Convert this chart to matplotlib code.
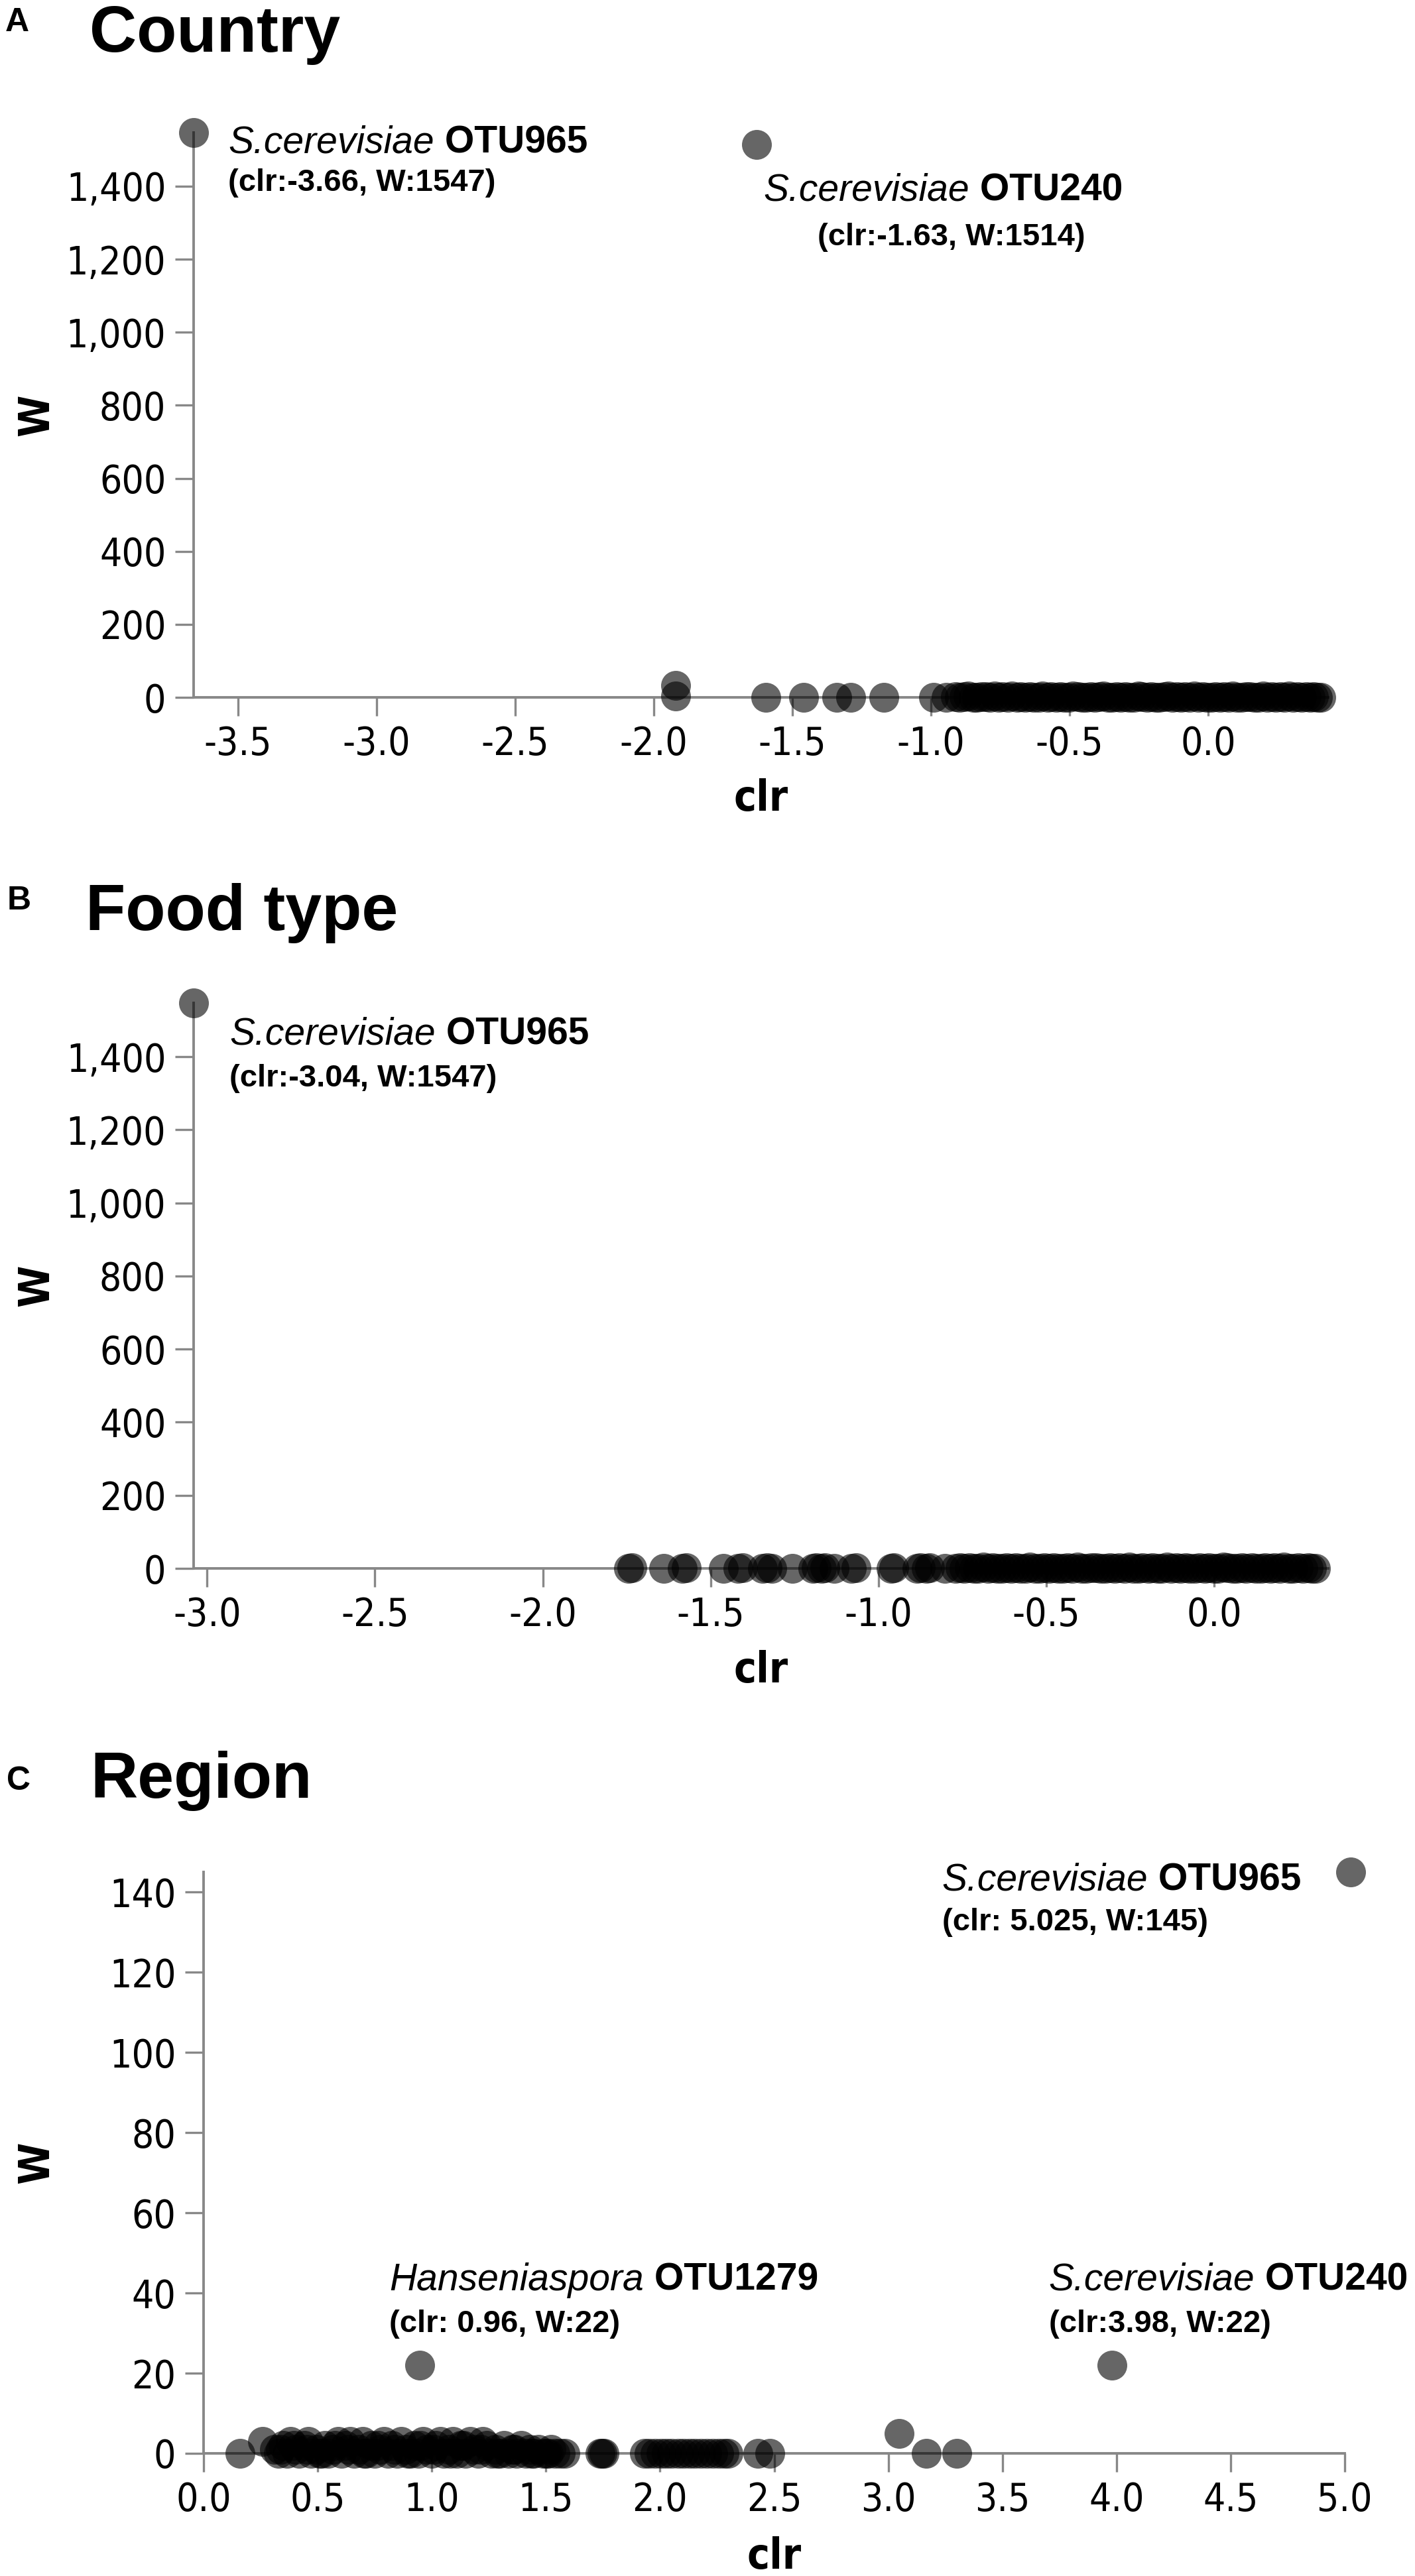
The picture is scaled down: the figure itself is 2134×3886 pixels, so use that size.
import matplotlib
matplotlib.use("Agg")
import matplotlib.pyplot as plt
from matplotlib import font_manager as fm
from matplotlib.ticker import FuncFormatter, FixedLocator

## ---- data ----
# A: Country
country_clr = [-3.66, -1.63, -1.92, -1.92, -1.595, -1.46, -1.34, -1.29, -1.17, -0.99, -0.945,
               -0.912, -0.897, -0.881, -0.866, -0.848, -0.835, -0.819, -0.801, -0.788, -0.770,
               -0.756, -0.741, -0.722, -0.709, -0.690, -0.676, -0.661, -0.643, -0.628, -0.611,
               -0.597, -0.580, -0.566, -0.548, -0.533, -0.519, -0.502, -0.487, -0.470, -0.455,
               -0.441, -0.424, -0.409, -0.392, -0.378, -0.361, -0.346, -0.330, -0.316, -0.299,
               -0.285, -0.268, -0.252, -0.239, -0.221, -0.206, -0.190, -0.176, -0.159, -0.144,
               -0.128, -0.113, -0.097, -0.083, -0.066, -0.051, -0.035, -0.020, -0.004, 0.011,
               0.027, 0.042, 0.058, 0.073, 0.089, 0.104, 0.120, 0.136, 0.151, 0.167,
               0.182, 0.198, 0.213, 0.229, 0.244, 0.260, 0.275, 0.291, 0.307, 0.322,
               0.338, 0.353, 0.368, 0.381, 0.394, 0.406]
country_w = [1547, 1514, 32, 4, 0, 0, 0, 0, 0, 0, 0,
             2, 0, 1, 3, 0, 0, 2, 1, 0, 4,
             0, 1, 0, 3, 0, 2, 0, 1, 0, 0,
             3, 0, 1, 0, 2, 0, 0, 4, 1, 0,
             0, 2, 0, 1, 3, 0, 0, 1, 0, 2,
             0, 0, 3, 1, 0, 2, 0, 0, 1, 4,
             0, 1, 0, 2, 0, 3, 0, 1, 0, 0,
             2, 0, 1, 0, 3, 0, 0, 2, 1, 0,
             0, 4, 0, 1, 0, 2, 0, 3, 0, 1,
             0, 2, 0, 1, 0, 0]

# B: Food type
food_clr = [-3.04, -1.745, -1.735, -1.640, -1.585, -1.572, -1.462, -1.418, -1.405, -1.345,
            -1.332, -1.318, -1.257, -1.196, -1.185, -1.170, -1.160, -1.133, -1.080, -1.068,
            -0.962, -0.955, -0.885, -0.876, -0.857, -0.848, -0.802,
            -0.771, -0.758, -0.746, -0.729, -0.716, -0.703, -0.688, -0.675, -0.661, -0.647,
            -0.633, -0.619, -0.604, -0.591, -0.578, -0.562, -0.549, -0.534, -0.521, -0.507,
            -0.492, -0.479, -0.465, -0.450, -0.437, -0.423, -0.408, -0.395, -0.381, -0.366,
            -0.353, -0.338, -0.325, -0.311, -0.296, -0.283, -0.268, -0.254, -0.241, -0.226,
            -0.213, -0.197, -0.185, -0.169, -0.157, -0.141, -0.129, -0.113, -0.101, -0.085,
            -0.073, -0.057, -0.045, -0.029, -0.017, -0.001, 0.011, 0.027, 0.039, 0.055,
            0.067, 0.083, 0.095, 0.111, 0.123, 0.139, 0.151, 0.167, 0.179, 0.195,
            0.207, 0.223, 0.235, 0.251, 0.263, 0.279, 0.290, 0.301]
food_w = [1547, 0, 2, 0, 0, 1, 0, 0, 2, 0,
          1, 0, 0, 0, 2, 0, 1, 0, 0, 1,
          0, 2, 0, 1, 0, 2, 0,
          0, 1, 0, 2, 0, 0, 3, 0, 1, 0,
          0, 2, 0, 1, 0, 0, 3, 0, 0, 1,
          0, 2, 0, 0, 1, 0, 3, 0, 0, 2,
          1, 0, 0, 2, 0, 1, 0, 3, 0, 0,
          2, 0, 1, 0, 0, 3, 0, 1, 0, 2,
          0, 0, 1, 0, 2, 0, 0, 3, 1, 0,
          0, 2, 0, 1, 0, 0, 2, 0, 1, 0,
          3, 0, 0, 1, 0, 2, 0, 0]

# C: Region
region_clr = [5.025, 0.947, 3.98, 3.047, 3.167, 3.30, 0.16, 0.26,
              0.312, 0.327, 0.349, 0.366, 0.381, 0.403, 0.418, 0.441, 0.458, 0.472,
              0.493, 0.508, 0.531, 0.547, 0.566, 0.589, 0.603, 0.622, 0.641, 0.659,
              0.681, 0.697, 0.712, 0.734, 0.751, 0.772, 0.789, 0.808, 0.826, 0.848,
              0.866, 0.887, 0.905, 0.923, 0.941, 0.962, 0.979, 0.998, 1.017, 1.036,
              1.053, 1.074, 1.092, 1.111, 1.128, 1.149, 1.167, 1.186, 1.204, 1.223,
              1.241, 1.262, 1.279, 1.298, 1.317, 1.336, 1.353, 1.372, 1.391, 1.412,
              1.428, 1.447, 1.466, 1.487, 1.503, 1.522, 1.541, 1.562,
              0.338, 0.395, 0.452, 0.517, 0.574, 0.633, 0.704, 0.763, 0.836, 0.894,
              0.951, 1.008, 1.082, 1.139, 1.213, 1.288, 1.362, 1.437, 1.512, 1.583,
              1.737, 1.746, 1.755, 1.931, 1.952, 1.978, 2.004, 2.027, 2.051, 2.079,
              2.103, 2.129, 2.152, 2.178, 2.204, 2.231, 2.258, 2.282, 2.297, 2.43, 2.48]
region_w = [145, 22, 22, 5, 0, 0, 0, 3,
            1, 0, 2, 0, 3, 1, 0, 2, 3, 0,
            1, 0, 2, 0, 1, 3, 0, 2, 3, 0,
            1, 3, 0, 2, 0, 1, 3, 0, 2, 0,
            3, 1, 0, 2, 0, 3, 1, 0, 2, 3,
            0, 1, 3, 0, 2, 0, 3, 1, 0, 3,
            2, 0, 1, 0, 2, 0, 1, 0, 2, 0,
            1, 0, 1, 0, 0, 1, 0, 0,
            1, 2, 1, 0, 2, 1, 0, 2, 1, 0,
            2, 1, 0, 2, 1, 0, 1, 0, 0, 0,
            0, 0, 0, 0, 0, 0, 0, 0, 0, 0,
            0, 0, 0, 0, 0, 0, 0, 0, 0, 0, 0]

## ---- fonts ----
ANN = "Liberation Sans"
cond = [f for f in fm.fontManager.ttflist
        if f.name.startswith("DejaVu Sans") and "Mono" not in f.name
        and (str(f.stretch) == "condensed" or "Condensed" in f.name)]
if cond:
    tick_family, tick_stretch, tick_size, lab_size = cond[0].name, "condensed", 42, 46
else:
    tick_family, tick_stretch, tick_size, lab_size = "DejaVu Sans", "normal", 39, 43
plt.rcParams["font.family"] = [tick_family]
plt.rcParams["font.stretch"] = tick_stretch

GREY = "#888888"
W_PX, H_PX = 2134, 3886
fig = plt.figure(figsize=(W_PX / 100, H_PX / 100), dpi=100)


def box(left, top, right, bottom):
    return [left / W_PX, 1 - bottom / H_PX, (right - left) / W_PX, (bottom - top) / H_PX]


def panel(rect, clr, w, xlim, ylim, xticks, yticks, yfmt, label_y):
    ax = fig.add_axes(box(*rect))
    ax.scatter(clr, w, s=1050, c="black", alpha=0.6, linewidths=0, zorder=3, clip_on=False)
    ax.set_xlim(*xlim)
    ax.set_ylim(*ylim)
    ax.xaxis.set_major_locator(FixedLocator(xticks))
    ax.yaxis.set_major_locator(FixedLocator(yticks))
    ax.xaxis.set_major_formatter(FuncFormatter(lambda v, p: f"{v:.1f}"))
    ax.yaxis.set_major_formatter(FuncFormatter(yfmt))
    for s in ["top", "right"]:
        ax.spines[s].set_visible(False)
    for s in ["left", "bottom"]:
        ax.spines[s].set_color(GREY)
        ax.spines[s].set_linewidth(2.8)
    ax.tick_params(length=20, width=2.4, color=GREY, labelsize=tick_size, pad=10)
    ax.set_facecolor("none")
    # axis titles
    l, t, r, b = rect
    fig.text((l + r) / 2 / W_PX, 1 - label_y / H_PX, "clr", ha="center", va="center",
             fontsize=lab_size, fontweight="bold")
    fig.text(55 / W_PX, 1 - (t + b) / 2 / H_PX, "W", ha="center", va="center",
             rotation=90, fontsize=lab_size, fontweight="bold")
    return ax


def tag(ax, x, y, species, otu, stats, dx1, dy1, dx2, dy2, ha2="left"):
    t1 = ax.annotate(species, (x, y), xytext=(dx1, dy1), textcoords="offset pixels",
                     fontsize=41, style="italic", family=ANN, fontstretch="normal",
                     ha="left", va="baseline", annotation_clip=False)
    ax.annotate(" " + otu, (1, 0), xycoords=t1, fontsize=41, fontweight="bold",
                family=ANN, fontstretch="normal", ha="left", va="bottom")
    ax.annotate(stats, (x, y), xytext=(dx2, dy2), textcoords="offset pixels",
                fontsize=34, fontweight="bold", family=ANN, fontstretch="normal",
                ha=ha2, va="baseline", annotation_clip=False)


def heading(letter, title, letter_xy, title_xy):
    fig.text(letter_xy[0] / W_PX, 1 - letter_xy[1] / H_PX, letter, fontsize=36,
             fontweight="bold", family=ANN, fontstretch="normal", va="baseline")
    fig.text(title_xy[0] / W_PX, 1 - title_xy[1] / H_PX, title, fontsize=71,
             fontweight="bold", family=ANN, fontstretch="normal", va="baseline")


comma = lambda v, p: f"{v:,.0f}"
plain = lambda v, p: f"{v:.0f}"

# A
heading("A", "Country", (8, 47), (135, 78))
axA = panel((292, 200, 2003, 1052), country_clr, country_w, (-3.66, 0.433), (0, 1547),
            [-3.5, -3.0, -2.5, -2.0, -1.5, -1.0, -0.5, 0.0], list(range(0, 1401, 200)), comma, 1205)
tag(axA, -3.66, 1547, "S.cerevisiae", "OTU965", "(clr:-3.66, W:1547)", 52, -30, 52, -88)
tag(axA, -1.63, 1514, "S.cerevisiae", "OTU240", "(clr:-1.63, W:1514)", 11, -84, 294, -152, "center")

# B
heading("B", "Food type", (11, 1372), (129, 1403))
axB = panel((292, 1513, 2003, 2366), food_clr, food_w, (-3.04, 0.339), (0, 1547),
            [-3.0, -2.5, -2.0, -1.5, -1.0, -0.5, 0.0], list(range(0, 1401, 200)), comma, 2520)
tag(axB, -3.04, 1547, "S.cerevisiae", "OTU965", "(clr:-3.04, W:1547)", 54, -62, 54, -126)

# C
heading("C", "Region", (10, 2700), (136, 2712))
axC = panel((307, 2824, 2028, 3701), region_clr, region_w, (0, 5.0), (0, 145),
            [0.0, 0.5, 1.0, 1.5, 2.0, 2.5, 3.0, 3.5, 4.0, 4.5, 5.0], list(range(0, 141, 20)), plain, 3857)
tag(axC, 5.025, 145, "S.cerevisiae", "OTU965", "(clr: 5.025, W:145)", -616, -28, -616, -88)
tag(axC, 0.947, 22, "Hanseniaspora", "OTU1279", "(clr: 0.96, W:22)", -46, 113, -46, 50)
tag(axC, 3.98, 22, "S.cerevisiae", "OTU240", "(clr:3.98, W:22)", -96, 113, -95, 50)

fig.savefig("out.png", dpi=100, facecolor="white")
